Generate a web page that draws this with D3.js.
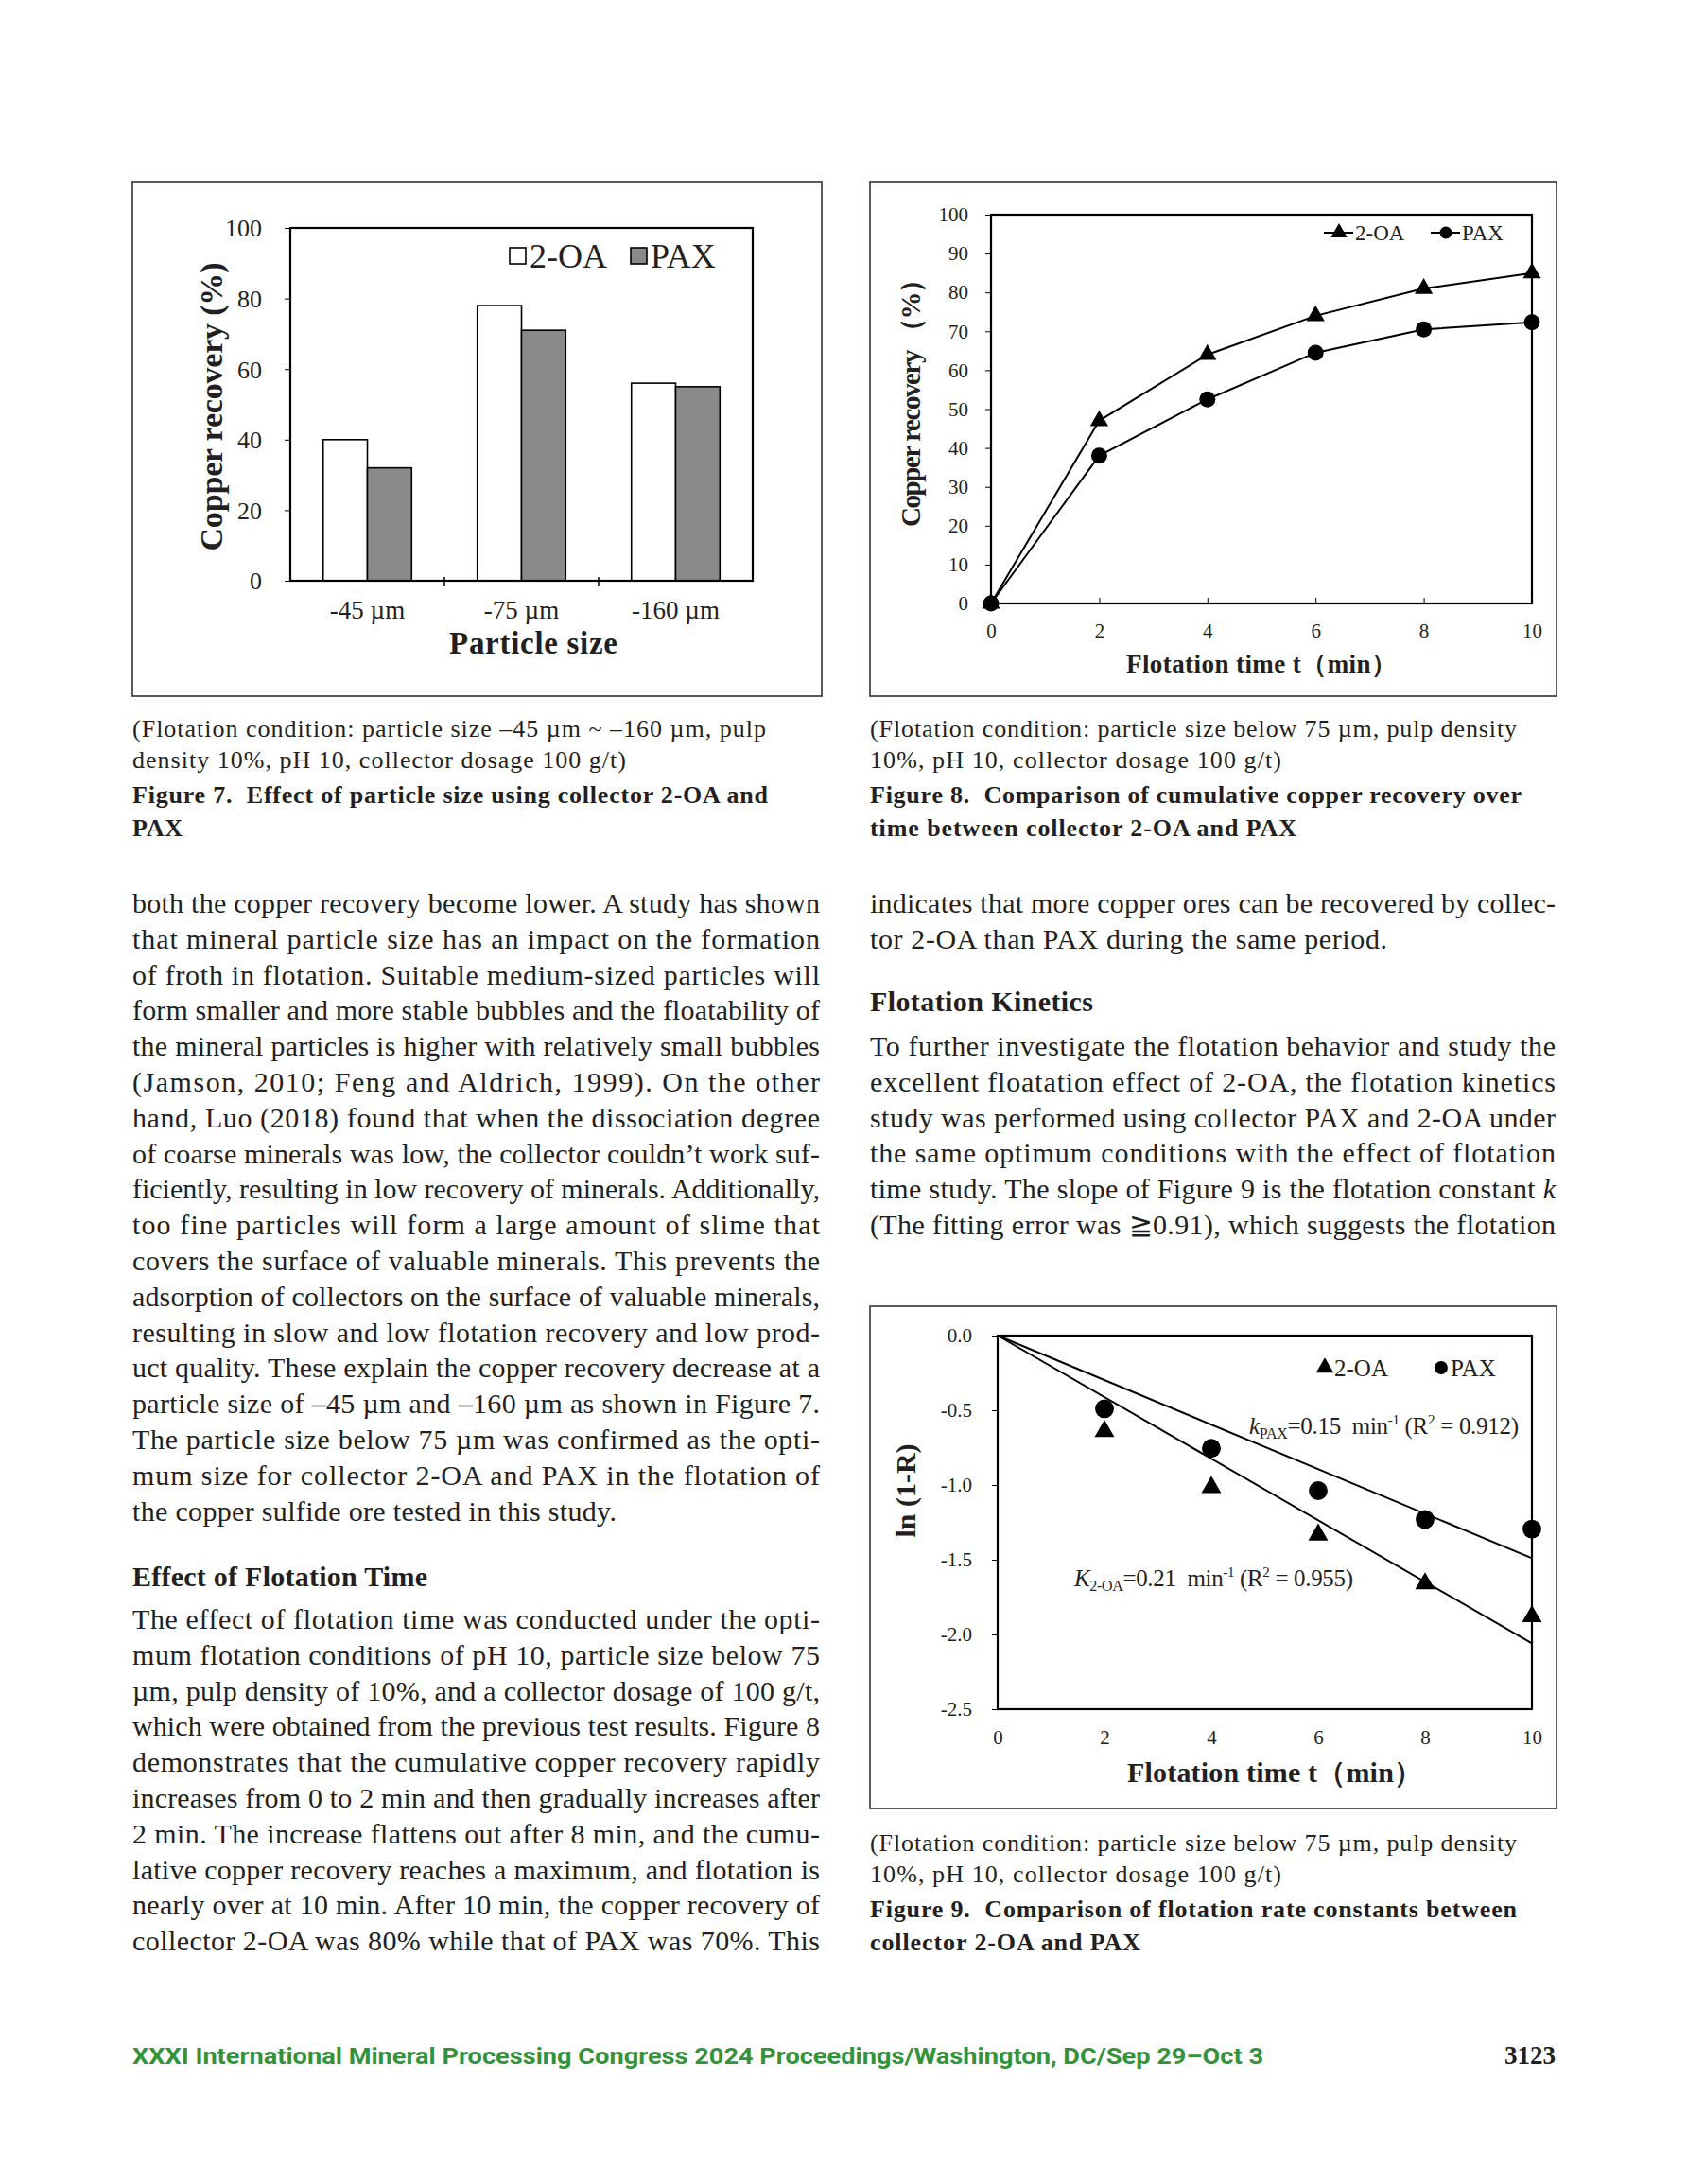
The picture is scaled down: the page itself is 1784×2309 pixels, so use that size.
<!DOCTYPE html>
<html>
<head>
<meta charset="utf-8">
<script src="https://d3js.org/d3.v7.min.js"></script>
<style>
  body{ margin:0; background:#fff; }
  svg text{ font-family:"Liberation Serif","Times New Roman",serif; fill:#231f20; white-space:pre; }
  .frame{ fill:none; stroke:#333; stroke-width:1.6; }
  .plot{ fill:none; stroke:#000; stroke-width:2.2; }
</style>
</head>
<body>
<svg id="page" width="1784" height="2309"></svg>
<script>
// ---- figure 7 : particle size ----
const sizeCats = ["-45 µm", "-75 µm", "-160 µm"];
const rec2OA = [40, 78, 56];
const recPAX = [32, 71, 55];
const recTicks = [0, 20, 40, 60, 80, 100];

// ---- figure 8 : cumulative recovery ----
const timeMin = [0, 2, 4, 6, 8, 10];
const cum2OA = [0, 47, 64, 74, 81, 85];
const cumPAX = [0, 38, 52.5, 64.5, 70.5, 72.3];
const cumTicks = [0, 10, 20, 30, 40, 50, 60, 70, 80, 90, 100];

// ---- figure 9 : ln(1-R) ----
const lnTime = [2, 4, 6, 8, 10];
const ln2OA = [-0.64, -1.015, -1.333, -1.66, -1.88];
const lnPAX = [-0.49, -0.755, -1.038, -1.231, -1.295];
const fitTime = [0, 10];
const fit2OA = [0, -2.06];
const fitPAX = [0, -1.49];
const lnTicks = [0, -0.5, -1.0, -1.5, -2.0, -2.5];
const timeTicks = [0, 2, 4, 6, 8, 10];

// ---- page text ----
const cap7 = ["(Flotation condition: particle size –45 µm ~ –160 µm, pulp",
  "density 10%, pH 10, collector dosage 100 g/t)"];
const cap7b = ["Figure 7.  Effect of particle size using collector 2-OA and", "PAX"];
const cap8 = ["(Flotation condition: particle size below 75 µm, pulp density",
  "10%, pH 10, collector dosage 100 g/t)"];
const cap8b = ["Figure 8.  Comparison of cumulative copper recovery over",
  "time between collector 2-OA and PAX"];
const cap9b = ["Figure 9.  Comparison of flotation rate constants between",
  "collector 2-OA and PAX"];

const leftPara1 = [
  "both the copper recovery become lower. A study has shown",
  "that mineral particle size has an impact on the formation",
  "of froth in flotation. Suitable medium-sized particles will",
  "form smaller and more stable bubbles and the floatability of",
  "the mineral particles is higher with relatively small bubbles",
  "(Jamson, 2010; Feng and Aldrich, 1999). On the other",
  "hand, Luo (2018) found that when the dissociation degree",
  "of coarse minerals was low, the collector couldn’t work suf-",
  "ficiently, resulting in low recovery of minerals. Additionally,",
  "too fine particles will form a large amount of slime that",
  "covers the surface of valuable minerals. This prevents the",
  "adsorption of collectors on the surface of valuable minerals,",
  "resulting in slow and low flotation recovery and low prod-",
  "uct quality. These explain the copper recovery decrease at a",
  "particle size of –45 µm and –160 µm as shown in Figure 7.",
  "The particle size below 75 µm was confirmed as the opti-",
  "mum size for collector 2-OA and PAX in the flotation of",
  "the copper sulfide ore tested in this study."
];
const leftPara2 = [
  "The effect of flotation time was conducted under the opti-",
  "mum flotation conditions of pH 10, particle size below 75",
  "µm, pulp density of 10%, and a collector dosage of 100 g/t,",
  "which were obtained from the previous test results. Figure 8",
  "demonstrates that the cumulative copper recovery rapidly",
  "increases from 0 to 2 min and then gradually increases after",
  "2 min. The increase flattens out after 8 min, and the cumu-",
  "lative copper recovery reaches a maximum, and flotation is",
  "nearly over at 10 min. After 10 min, the copper recovery of",
  "collector 2-OA was 80% while that of PAX was 70%. This"
];
const rightPara1 = [
  "indicates that more copper ores can be recovered by collec-",
  "tor 2-OA than PAX during the same period."
];
const rightPara2 = [
  "To further investigate the flotation behavior and study the",
  "excellent floatation effect of 2-OA, the flotation kinetics",
  "study was performed using collector PAX and 2-OA under",
  "the same optimum conditions with the effect of flotation",
  [["time study. The slope of Figure 9 is the flotation constant ", ""], ["k", "italic"]],
  "(The fitting error was ≧0.91), which suggests the flotation"
];
const footerText = "XXXI International Mineral Processing Congress 2024 Proceedings/Washington, DC/Sep 29–Oct 3";
const pageNo = "3123";

const svg = d3.select("#page");

// one line of text; segs is a string or a list of [text, fontStyle]
function textLine(x, y, segs, size, weight, width){
  const t = svg.append("text").attr("x", x).attr("y", y)
    .attr("font-size", size).attr("font-weight", weight || "normal");
  if (typeof segs === "string") segs = [[segs, ""]];
  segs.forEach(s => {
    const sp = t.append("tspan").text(s[0]);
    if (s[1]) sp.attr("font-style", s[1]);
  });
  if (width) t.attr("textLength", width).attr("lengthAdjust", "spacing");
  return t;
}
function para(lines, x, y0, width, lastWidth){
  lines.forEach((l, i) => {
    const w = i === lines.length - 1 ? lastWidth : width;
    textLine(x, y0 + i * 37.8, l, 30, "normal", w);
  });
}

// ================= Figure 7 =================
svg.append("rect").attr("class", "frame").attr("x", 140).attr("y", 192).attr("width", 729).attr("height", 544);
const p7 = {l: 307, r: 796, t: 241, b: 614};
const x7 = d3.scaleBand().domain(sizeCats).range([p7.l, p7.r]).paddingInner(0.426).paddingOuter(0.213);
const x7s = d3.scaleBand().domain(["2-OA", "PAX"]).range([0, x7.bandwidth()]);
const y7 = d3.scaleLinear().domain([0, 100]).range([p7.b, p7.t]);
const bars7 = sizeCats.flatMap((c, i) => [
  {cat: c, s: "2-OA", v: rec2OA[i]},
  {cat: c, s: "PAX", v: recPAX[i]}
]);
svg.append("g").selectAll("rect").data(bars7).join("rect")
  .attr("x", d => x7(d.cat) + x7s(d.s))
  .attr("y", d => y7(d.v))
  .attr("width", x7s.bandwidth())
  .attr("height", d => y7(0) - y7(d.v))
  .attr("fill", d => d.s === "PAX" ? "#8a8a8a" : "#fff")
  .attr("stroke", "#000").attr("stroke-width", 1.6);
const ax7 = svg.append("g").attr("transform", `translate(${p7.l},0)`)
  .call(d3.axisLeft(y7).tickValues(recTicks).tickSize(6).tickPadding(24));
ax7.attr("font-family", null).attr("font-size", 26);
ax7.select(".domain").remove();
ax7.selectAll("text").attr("dy", "0.34em").attr("fill", "#231f20");
// category separators
svg.append("g").selectAll("line").data(d3.range(1, sizeCats.length)).join("line")
  .attr("x1", d => p7.l + d * x7.step()).attr("x2", d => p7.l + d * x7.step())
  .attr("y1", p7.b - 4).attr("y2", p7.b + 6).attr("stroke", "#000").attr("stroke-width", 1.5);
svg.append("g").selectAll("text").data(sizeCats).join("text")
  .attr("x", d => x7(d) + x7.bandwidth() / 2).attr("y", 654)
  .attr("text-anchor", "middle").attr("font-size", 27).text(d => d);
svg.append("rect").attr("class", "plot").attr("x", p7.l).attr("y", p7.t).attr("width", p7.r - p7.l).attr("height", p7.b - p7.t);
textLine(475, 691, "Particle size", 33, "bold", 178);
svg.append("text").attr("transform", "translate(235,430) rotate(-90)")
  .attr("text-anchor", "middle").attr("font-size", 34).attr("font-weight", "bold")
  .attr("textLength", 305).attr("lengthAdjust", "spacing").text("Copper recovery (%)");
// legend
const leg7 = [{s: "2-OA", x: 539, fill: "#fff"}, {s: "PAX", x: 667, fill: "#8a8a8a"}];
leg7.forEach(d => {
  svg.append("rect").attr("x", d.x).attr("y", 262).attr("width", 17).attr("height", 17)
    .attr("fill", d.fill).attr("stroke", "#000").attr("stroke-width", 1.6);
  svg.append("text").attr("x", d.x + 21).attr("y", 283).attr("font-size", 36).text(d.s);
});

// ================= Figure 8 =================
svg.append("rect").attr("class", "frame").attr("x", 920).attr("y", 192).attr("width", 726).attr("height", 544);
const p8 = {l: 1048, r: 1620, t: 227, b: 638};
const x8 = d3.scaleLinear().domain([0, 10]).range([p8.l, p8.r]);
const y8 = d3.scaleLinear().domain([0, 100]).range([p8.b, p8.t]);
const ay8 = svg.append("g").attr("transform", `translate(${p8.l},0)`)
  .call(d3.axisLeft(y8).tickValues(cumTicks).tickSize(6).tickPadding(18));
ay8.attr("font-family", null).attr("font-size", 21);
ay8.select(".domain").remove();
ay8.selectAll("text").attr("fill", "#231f20");
const ax8 = svg.append("g").attr("transform", `translate(0,${p8.b})`)
  .call(d3.axisBottom(x8).tickValues(timeTicks).tickSize(-6).tickPadding(21));
ax8.attr("font-family", null).attr("font-size", 21);
ax8.select(".domain").remove();
ax8.selectAll("text").attr("fill", "#231f20");
svg.append("rect").attr("class", "plot").attr("x", p8.l).attr("y", p8.t).attr("width", p8.r - p8.l).attr("height", p8.b - p8.t);
const line8 = d3.line().x(d => x8(d[0])).y(d => y8(d[1]));
const tri8 = d3.symbol().type(d3.symbolTriangle).size(160);
const cir8 = d3.symbol().type(d3.symbolCircle).size(227);
[[cum2OA, tri8], [cumPAX, cir8]].forEach(([vals, sym]) => {
  const pts = timeMin.map((t, i) => [t, vals[i]]);
  svg.append("path").datum(pts).attr("d", line8).attr("fill", "none").attr("stroke", "#000").attr("stroke-width", 2);
  svg.append("g").selectAll("path").data(pts).join("path")
    .attr("transform", d => `translate(${x8(d[0])},${y8(d[1])})`).attr("d", sym).attr("fill", "#000");
});
svg.append("text").attr("x", 1334).attr("y", 711).attr("text-anchor", "middle")
  .attr("font-size", 27).attr("font-weight", "bold").attr("textLength", 286).attr("lengthAdjust", "spacing")
  .text("Flotation time t（min）");
svg.append("text").attr("transform", "translate(973,419) rotate(-90)")
  .attr("text-anchor", "middle").attr("font-size", 29).attr("font-weight", "bold")
  .attr("textLength", 276).attr("lengthAdjust", "spacing").text("Copper recovery （%）");
const leg8 = [{s: "2-OA", x: 1400, sym: tri8}, {s: "PAX", x: 1513, sym: cir8}];
leg8.forEach(d => {
  svg.append("line").attr("x1", d.x).attr("x2", d.x + 31).attr("y1", 246).attr("y2", 246)
    .attr("stroke", "#000").attr("stroke-width", 2);
  svg.append("path").attr("transform", `translate(${d.x + 16},246)`).attr("d", d.sym.size(130)).attr("fill", "#000");
  svg.append("text").attr("x", d.x + 33).attr("y", 254).attr("font-size", 23).text(d.s);
});

// ================= Figure 9 =================
svg.append("rect").attr("class", "frame").attr("x", 920).attr("y", 1381).attr("width", 726).attr("height", 531);
const p9 = {l: 1055, r: 1620, t: 1412, b: 1807};
const x9 = d3.scaleLinear().domain([0, 10]).range([p9.l, p9.r]);
const y9 = d3.scaleLinear().domain([-2.5, 0]).range([p9.b, p9.t]);
const ay9 = svg.append("g").attr("transform", `translate(${p9.l},0)`)
  .call(d3.axisLeft(y9).tickValues(lnTicks).tickSize(6).tickPadding(21).tickFormat(d => d.toFixed(1)));
ay9.attr("font-family", null).attr("font-size", 21);
ay9.select(".domain").remove();
ay9.selectAll("text").attr("fill", "#231f20");
const ax9 = svg.append("g").attr("transform", `translate(0,${p9.b})`)
  .call(d3.axisBottom(x9).tickValues(timeTicks).tickSize(0).tickPadding(22));
ax9.attr("font-family", null).attr("font-size", 21);
ax9.select(".domain").remove();
ax9.selectAll("text").attr("fill", "#231f20");
svg.append("rect").attr("class", "plot").attr("x", p9.l).attr("y", p9.t).attr("width", p9.r - p9.l).attr("height", p9.b - p9.t);
const line9 = d3.line().x(d => x9(d[0])).y(d => y9(d[1]));
[fit2OA, fitPAX].forEach(vals => {
  svg.append("path").datum(fitTime.map((t, i) => [t, vals[i]])).attr("d", line9)
    .attr("fill", "none").attr("stroke", "#000").attr("stroke-width", 2);
});
const tri9 = d3.symbol().type(d3.symbolTriangle).size(190);
const cir9 = d3.symbol().type(d3.symbolCircle).size(310);
[[ln2OA, tri9], [lnPAX, cir9]].forEach(([vals, sym]) => {
  svg.append("g").selectAll("path").data(lnTime.map((t, i) => [t, vals[i]])).join("path")
    .attr("transform", d => `translate(${x9(d[0])},${y9(d[1])})`).attr("d", sym).attr("fill", "#000");
});
const leg9 = [{s: "2-OA", x: 1401, sym: tri9}, {s: "PAX", x: 1524, sym: cir9}];
leg9.forEach(d => {
  svg.append("path").attr("transform", `translate(${d.x},1446)`).attr("d", d.sym.size(150)).attr("fill", "#000");
  svg.append("text").attr("x", d.x + 10).attr("y", 1455).attr("font-size", 25).text(d.s);
});
function kLabel(x, y, k, sub, rest, r2, w){
  const t = svg.append("text").attr("x", x).attr("y", y).attr("font-size", 25);
  t.append("tspan").attr("font-style", "italic").text(k);
  t.append("tspan").attr("font-size", 16).attr("dy", 5).text(sub);
  t.append("tspan").attr("dy", -5).text(rest + "  min");
  t.append("tspan").attr("font-size", 15).attr("dy", -10).text("-1");
  t.append("tspan").attr("dy", 10).text(" (R");
  t.append("tspan").attr("font-size", 15).attr("dy", -10).text("2");
  t.append("tspan").attr("dy", 10).text(" = " + r2 + ")");
  t.attr("textLength", w).attr("lengthAdjust", "spacing");
}
kLabel(1321, 1516, "k", "PAX", "=0.15", "0.912", 285);
kLabel(1136, 1677, "K", "2-OA", "=0.21", "0.955", 295);
svg.append("text").attr("x", 1348).attr("y", 1884).attr("text-anchor", "middle")
  .attr("font-size", 30).attr("font-weight", "bold").attr("textLength", 312).attr("lengthAdjust", "spacing")
  .text("Flotation time t（min）");
svg.append("text").attr("transform", "translate(968,1576) rotate(-90)")
  .attr("text-anchor", "middle").attr("font-size", 30).attr("font-weight", "bold").text("ln (1-R)");

// ================= captions & body =================
textLine(140, 779, cap7[0], 26, "normal", 670);
textLine(140, 812, cap7[1], 26, "normal", 522);
textLine(140, 849, cap7b[0], 26, "bold", 672);
textLine(140, 884, cap7b[1], 26, "bold", 53);
textLine(920, 779, cap8[0], 26, "normal", 684);
textLine(920, 812, cap8[1], 26, "normal", 435);
textLine(920, 849, cap8b[0], 26, "bold", 689);
textLine(920, 884, cap8b[1], 26, "bold", 451);
textLine(920, 1957, cap8[0], 26, "normal", 684);
textLine(920, 1990, cap8[1], 26, "normal", 435);
textLine(920, 2027, cap9b[0], 26, "bold", 684);
textLine(920, 2062, cap9b[1], 26, "bold", 286);

para(leftPara1, 140, 965, 727, 512);
textLine(140, 1677, "Effect of Flotation Time", 30, "bold", 312);
para(leftPara2, 140, 1722, 727, 727);
para(rightPara1, 920, 965, 725, 547);
textLine(920, 1069, "Flotation Kinetics", 30, "bold", 236);
para(rightPara2, 920, 1116, 725, 725);

// footer
svg.append("text").attr("x", 140).attr("y", 2182)
  .style("font-family", "Roboto, 'Liberation Sans', sans-serif").style("fill", "#33933b")
  .attr("font-size", 24).attr("font-weight", "bold")
  .attr("textLength", 1196).attr("lengthAdjust", "spacingAndGlyphs").text(footerText);
textLine(1645, 2182, pageNo, 27, "bold").attr("text-anchor", "end");
</script>
</body>
</html>
